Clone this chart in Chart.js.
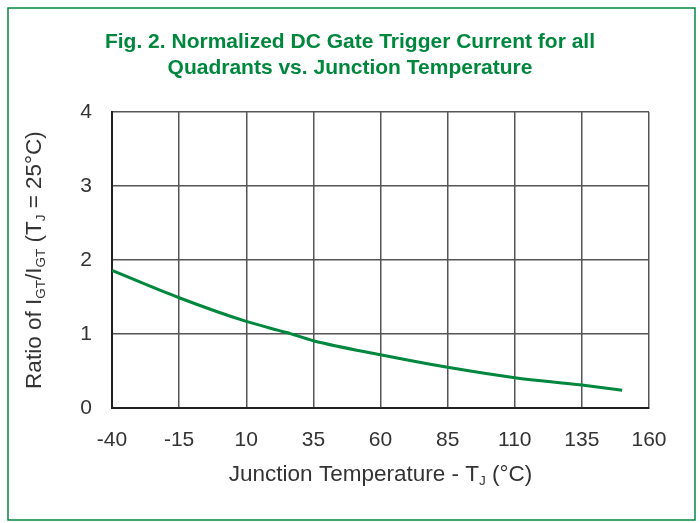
<!DOCTYPE html>
<html>
<head>
<meta charset="utf-8">
<script src="https://cdn.jsdelivr.net/npm/chart.js@4"></script>
<style>
  html, body { margin: 0; padding: 0; background: #fff; }
  #wrap { width: 700px; height: 523px; }
</style>
</head>
<body>
<div id="wrap"><canvas id="chart" width="700" height="523"></canvas></div>
<script>
// values
const temps = [-40, -15, 10, 25, 35, 60, 85, 110, 135, 150];
const ratio = [1.86, 1.49, 1.17, 1.02, 0.91, 0.72, 0.55, 0.41, 0.31, 0.24];
const xTicks = [-40, -15, 10, 35, 60, 85, 110, 135, 160];
const yTicks = [0, 1, 2, 3, 4];

const green = '#00873E';
const tickFont = { family: "'Liberation Sans', Arial, sans-serif", size: 21 };

// draws a string made of parts, some of them subscript
function drawRich(ctx, parts, x, y, size) {
    let total = 0;
    parts.forEach(p => {
        ctx.font = (p.sub ? size * 0.6 : size) + "px 'Liberation Sans', Arial, sans-serif";
        p.w = ctx.measureText(p.t).width;
        total += p.w;
    });
    let cx = x - total / 2;
    parts.forEach(p => {
        ctx.font = (p.sub ? size * 0.6 : size) + "px 'Liberation Sans', Arial, sans-serif";
        ctx.fillText(p.t, cx, p.sub ? y + size * 0.3 : y);
        cx += p.w;
    });
}

const extras = {
    id: 'extras',
    afterDraw(chart) {
        const ctx = chart.ctx;
        const area = chart.chartArea;
        ctx.save();
        // outer frame
        ctx.strokeStyle = green;
        ctx.lineWidth = 1.5;
        ctx.strokeRect(8, 8, 687, 512);

        ctx.fillStyle = '#333';
        ctx.textBaseline = 'middle';
        ctx.textAlign = 'left';
        // x axis title
        drawRich(ctx, [
            { t: 'Junction Temperature - T' },
            { t: 'J', sub: true },
            { t: ' (°C)' }
        ], (area.left + area.right) / 2, 475, 22.5);

        // y axis title
        ctx.translate(35, (area.top + area.bottom) / 2);
        ctx.rotate(-Math.PI / 2);
        drawRich(ctx, [
            { t: 'Ratio of I' },
            { t: 'GT', sub: true },
            { t: '/I' },
            { t: 'GT', sub: true },
            { t: ' (T' },
            { t: 'J', sub: true },
            { t: ' = 25°C)' }
        ], 0, 0, 22.5);
        ctx.restore();
    }
};

new Chart(document.getElementById('chart'), {
    type: 'line',
    data: {
        datasets: [{
            data: temps.map((t, i) => ({ x: t, y: ratio[i] })),
            borderColor: green,
            borderWidth: 3,
            pointRadius: 0,
            cubicInterpolationMode: 'monotone',
            fill: false
        }]
    },
    options: {
        responsive: false,
        animation: false,
        layout: { padding: { left: 51, right: 51, top: 0, bottom: 0 } },
        plugins: {
            legend: { display: false },
            tooltip: { enabled: false },
            title: {
                display: true,
                text: ['Fig. 2. Normalized DC Gate Trigger Current for all', 'Quadrants vs. Junction Temperature'],
                color: green,
                font: { family: "'Liberation Sans Narrow', 'Liberation Sans', Arial, sans-serif", size: 21, weight: 'bold', lineHeight: 1.24 },
                padding: { top: 29, bottom: 31 }
            }
        },
        scales: {
            x: {
                type: 'linear',
                min: -40,
                max: 160,
                afterBuildTicks: scale => { scale.ticks = xTicks.map(v => ({ value: v })); },
                afterFit: scale => { scale.height = 115; },
                grid: { color: '#555', lineWidth: 1.5, drawTicks: false },
                border: { color: '#222', width: 2 },
                ticks: { color: '#333', font: tickFont, padding: 20, maxRotation: 0, autoSkip: false }
            },
            y: {
                min: 0,
                max: 4,
                afterBuildTicks: scale => { scale.ticks = yTicks.map(v => ({ value: v })); },
                afterFit: scale => { scale.width = 61; },
                grid: { color: '#555', lineWidth: 1.5, drawTicks: false },
                border: { color: '#222', width: 2 },
                ticks: { color: '#333', font: tickFont, padding: 20 }
            }
        }
    },
    plugins: [extras]
});
</script>
</body>
</html>
